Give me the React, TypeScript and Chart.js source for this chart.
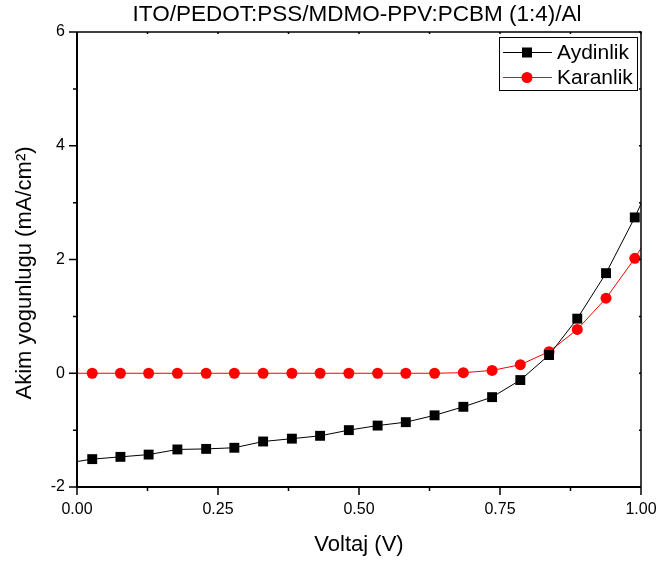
import React, { useEffect, useRef } from "react";
import { Chart, registerables } from "chart.js";

Chart.register(...registerables);

const voltage = [-0.024, 0.027, 0.077, 0.127, 0.178, 0.229, 0.279, 0.33, 0.381, 0.431, 0.482, 0.533, 0.583, 0.634, 0.685, 0.736, 0.786, 0.837, 0.887, 0.938, 0.989, 1.04];
const aydinlik = [-1.59, -1.51, -1.47, -1.43, -1.34, -1.33, -1.31, -1.2, -1.15, -1.1, -1.0, -0.92, -0.86, -0.74, -0.59, -0.42, -0.12, 0.32, 0.96, 1.76, 2.74, 3.85];
const karanlik = [0, 0, 0, 0, 0, 0, 0, 0, 0, 0, 0, 0, 0, 0, 0.01, 0.05, 0.15, 0.38, 0.77, 1.32, 2.02, 2.85];

const xMajorTicks = [0, 0.25, 0.5, 0.75, 1];
const xMinorTicks = [0.125, 0.375, 0.625, 0.875];
const yMajorTicks = [-2, 0, 2, 4, 6];
const yMinorTicks = [-1, 1, 3, 5];

const titleText = "ITO/PEDOT:PSS/MDMO-PPV:PCBM (1:4)/Al";
const xTitle = "Voltaj (V)";
const yTitle = "Akim yogunlugu (mA/cm²)";
const seriesNames = ["Aydinlik", "Karanlik"];
const seriesColors = ["#000000", "#ff0000"];

const FONT = "'Liberation Sans', Arial, sans-serif";

const framePlugin = {
  id: "originFrame",
  afterDraw(chart: any) {
    const { ctx, chartArea } = chart;
    const xs = chart.scales.x;
    const ys = chart.scales.y;
    const { left, right, top, bottom } = chartArea;
    ctx.save();
    ctx.strokeStyle = "#000";
    ctx.lineCap = "butt";
    // frame
    ctx.lineWidth = 2;
    ctx.beginPath();
    ctx.moveTo(left, top);
    ctx.lineTo(left, bottom);
    ctx.lineTo(right, bottom);
    ctx.stroke();
    ctx.lineWidth = 1.5;
    ctx.beginPath();
    ctx.moveTo(left, top);
    ctx.lineTo(right, top);
    ctx.lineTo(right, bottom);
    ctx.stroke();
    // bottom ticks
    ctx.lineWidth = 1.5;
    ctx.beginPath();
    xMajorTicks.forEach((v) => {
      const px = xs.getPixelForValue(v);
      ctx.moveTo(px, bottom);
      ctx.lineTo(px, bottom + 8);
    });
    xMinorTicks.forEach((v) => {
      const px = xs.getPixelForValue(v);
      ctx.moveTo(px, bottom);
      ctx.lineTo(px, bottom + 4);
    });
    // top ticks (inward)
    [...xMajorTicks, ...xMinorTicks].forEach((v) => {
      const px = xs.getPixelForValue(v);
      ctx.moveTo(px, top);
      ctx.lineTo(px, top + 2);
    });
    // left ticks
    yMajorTicks.forEach((v) => {
      const py = ys.getPixelForValue(v);
      ctx.moveTo(left, py);
      ctx.lineTo(left - 8, py);
    });
    yMinorTicks.forEach((v) => {
      const py = ys.getPixelForValue(v);
      ctx.moveTo(left, py);
      ctx.lineTo(left - 4, py);
    });
    // right ticks (inward)
    [...yMajorTicks, ...yMinorTicks].forEach((v) => {
      const py = ys.getPixelForValue(v);
      ctx.moveTo(right, py);
      ctx.lineTo(right - 2, py);
    });
    ctx.stroke();

    // title
    ctx.fillStyle = "#000";
    ctx.font = `22.5px ${FONT}`;
    ctx.textAlign = "center";
    ctx.textBaseline = "middle";
    ctx.fillText(titleText, (left + right) / 2 - 2, 15);

    // y axis title
    ctx.save();
    ctx.translate(25, 273);
    ctx.rotate(-Math.PI / 2);
    ctx.font = `22px ${FONT}`;
    ctx.textAlign = "center";
    ctx.textBaseline = "middle";
    ctx.fillText(yTitle, 0, 0);
    ctx.restore();

    // legend
    const lx = 499, ly = 37, lw = 138, lh = 53;
    ctx.fillStyle = "#fff";
    ctx.fillRect(lx, ly, lw, lh);
    ctx.lineWidth = 1;
    ctx.strokeStyle = "#000";
    ctx.strokeRect(lx + 0.5, ly + 0.5, lw, lh);
    const rows = [52.5, 77.5];
    seriesNames.forEach((name, i) => {
      const y = rows[i];
      ctx.strokeStyle = seriesColors[i];
      ctx.lineWidth = 1;
      ctx.beginPath();
      ctx.moveTo(503, y);
      ctx.lineTo(552, y);
      ctx.stroke();
      ctx.fillStyle = seriesColors[i];
      if (i === 0) {
        ctx.fillRect(527 - 5, y - 5, 10, 10);
      } else {
        ctx.beginPath();
        ctx.arc(527, y, 5.5, 0, Math.PI * 2);
        ctx.fill();
      }
      ctx.fillStyle = "#000";
      ctx.font = `21px ${FONT}`;
      ctx.textAlign = "left";
      ctx.textBaseline = "middle";
      ctx.fillText(name, 557, y + 1);
    });
    ctx.restore();
  },
};

export default function App() {
  const canvasRef = useRef<HTMLCanvasElement | null>(null);

  useEffect(() => {
    if (!canvasRef.current) return;
    const chart = new Chart(canvasRef.current, {
      type: "line",
      data: {
        datasets: [
          {
            label: seriesNames[0],
            data: voltage.map((v, i) => ({ x: v, y: aydinlik[i] })),
            borderColor: seriesColors[0],
            backgroundColor: seriesColors[0],
            borderWidth: 1,
            pointStyle: "rect",
            pointRadius: 7,
            pointBorderWidth: 0,
            pointBackgroundColor: seriesColors[0],
            tension: 0,
            clip: 0,
          },
          {
            label: seriesNames[1],
            data: voltage.map((v, i) => ({ x: v, y: karanlik[i] })),
            borderColor: seriesColors[1],
            backgroundColor: seriesColors[1],
            borderWidth: 1,
            pointStyle: "circle",
            pointRadius: 5.5,
            pointBorderWidth: 0,
            pointBackgroundColor: seriesColors[1],
            tension: 0,
            clip: 0,
          },
        ],
      },
      options: {
        responsive: false,
        animation: false,
        layout: { padding: { top: 32, right: 21, left: 0, bottom: 0 } },
        plugins: {
          legend: { display: false },
          title: { display: false },
          tooltip: { enabled: false },
        },
        scales: {
          x: {
            type: "linear",
            min: 0,
            max: 1,
            grid: { display: false, drawTicks: false },
            border: { display: false },
            ticks: {
              stepSize: 0.25,
              autoSkip: false,
              maxRotation: 0,
              padding: 13,
              color: "#000",
              font: { family: FONT, size: 16 },
              callback: (v: any) => Number(v).toFixed(2),
            },
            title: {
              display: true,
              text: xTitle,
              color: "#000",
              font: { family: FONT, size: 22 },
              padding: { top: 0, bottom: 5 },
            },
            afterFit: (s: any) => {
              s.height = 76;
              s.paddingLeft = 0;
              s.paddingRight = 0;
            },
          },
          y: {
            type: "linear",
            min: -2,
            max: 6,
            grid: { display: false, drawTicks: false },
            border: { display: false },
            ticks: {
              stepSize: 2,
              autoSkip: false,
              padding: 12,
              color: "#000",
              font: { family: FONT, size: 16 },
              callback: (v: any) => String(v),
            },
            title: { display: false },
            afterFit: (s: any) => {
              s.width = 77;
              s.paddingTop = 0;
              s.paddingBottom = 0;
            },
          },
        },
      },
      plugins: [framePlugin],
    });
    return () => chart.destroy();
  }, []);

  return (
    <div style={{ position: "fixed", left: 0, top: 0, width: 662, height: 563, background: "#fff" }}>
      <canvas ref={canvasRef} width={662} height={563} />
    </div>
  );
}
